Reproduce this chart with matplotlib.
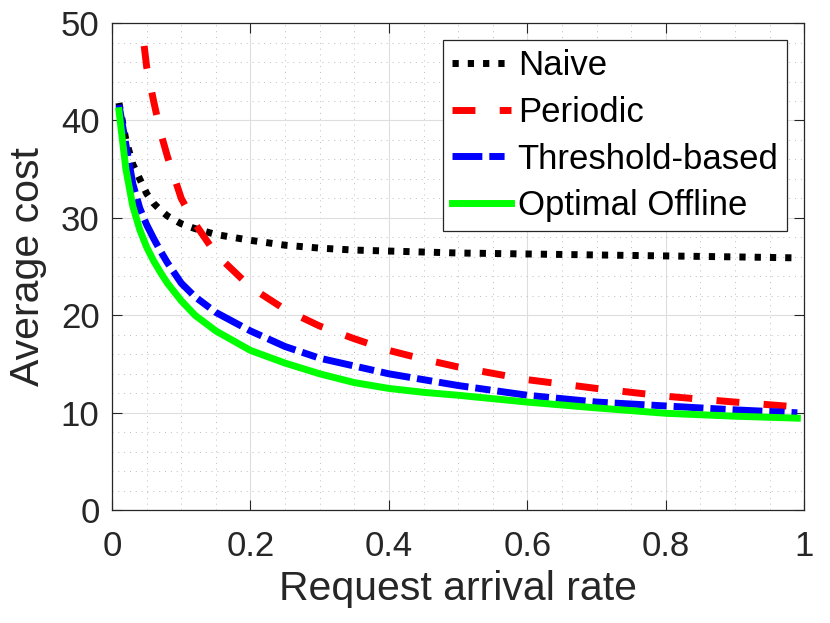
import numpy as np
import matplotlib.pyplot as plt

plt.rcParams["font.family"] = ["Liberation Sans", "DejaVu Sans"]

# request arrival rate (x) and average cost per policy
rate = [0.01, 0.02, 0.03, 0.04, 0.05, 0.06, 0.07, 0.08, 0.10, 0.12, 0.15,
        0.20, 0.25, 0.30, 0.35, 0.40, 0.45, 0.50, 0.60, 0.70, 0.80, 0.90, 0.99]
naive = [41.8, 38.0, 35.5, 34.0, 32.5, 31.5, 30.8, 30.2, 29.4, 28.9, 28.3,
         27.7, 27.2, 26.9, 26.7, 26.6, 26.5, 26.4, 26.3, 26.2, 26.1, 26.0, 25.9]
periodic = [130.0, 85.0, 62.0, 51.5, 45.5, 42.0, 38.8, 36.3, 32.0, 29.4, 26.3,
            22.9, 20.6, 18.9, 17.6, 16.4, 15.5, 14.7, 13.4, 12.5, 11.7, 11.1, 10.6]
threshold = [41.6, 37.5, 33.5, 31.0, 29.3, 27.9, 26.6, 25.4, 23.3, 21.9, 20.3,
             18.4, 16.8, 15.6, 14.8, 14.0, 13.4, 12.8, 11.8, 11.1, 10.7, 10.3, 10.0]
optimal = [41.0, 35.0, 31.2, 28.8, 27.0, 25.6, 24.4, 23.3, 21.5, 20.0, 18.4,
           16.4, 15.1, 14.0, 13.1, 12.5, 12.1, 11.8, 11.1, 10.5, 9.95, 9.65, 9.45]

labels = ["Naive", "Periodic", "Threshold-based", "Optimal Offline"]

fig = plt.figure(figsize=(8.3, 6.23), dpi=100)
ax = fig.add_axes([0.135, 0.181, 0.834, 0.782])

lw = 5
ax.plot(rate, naive, color="k", lw=lw, ls=(0, (0.9, 1.3)), label=labels[0])
ax.plot(rate, periodic, color="r", lw=lw, ls=(0, (3.3, 3.5)), label=labels[1])
ax.plot(rate, threshold, color="b", lw=lw, ls=(0, (4.3, 1.0, 2.2, 1.0)), label=labels[2])
ax.plot(rate, optimal, color="#00ff00", lw=lw, ls="-", label=labels[3])

ax.set_xlim(0, 1)
ax.set_ylim(0, 50)
ax.set_xticks(np.arange(0, 1.01, 0.2))
ax.set_xticklabels(["0", "0.2", "0.4", "0.6", "0.8", "1"])
ax.set_yticks(np.arange(0, 51, 10))
ax.set_xticks(np.arange(0, 1.01, 0.05), minor=True)
ax.set_yticks(np.arange(0, 51, 2), minor=True)

dark = "#262626"
ax.tick_params(which="major", direction="in", length=7, width=0.8, color=dark,
               labelsize=25, labelcolor=dark, top=True, right=True)
ax.tick_params(axis="x", which="major", pad=14)
ax.tick_params(axis="y", which="major", pad=9)
ax.tick_params(which="minor", length=0)
for s in ax.spines.values():
    s.set_color(dark)
    s.set_linewidth(0.9)

ax.grid(which="major", color="#dedede", lw=0.8, ls="-")
ax.grid(which="minor", color="#bdbdbd", lw=0.7, ls=(0, (1, 5)))
ax.set_axisbelow(True)

ax.set_xlabel("Request arrival rate", fontsize=29.5, color=dark, labelpad=5)
ax.set_ylabel("Average cost", fontsize=29.5, color=dark, labelpad=10)

leg = ax.legend(loc="upper right", bbox_to_anchor=(0.9754, 0.965), borderaxespad=0,
                fontsize=25, handlelength=1.7, handletextpad=0.2, labelspacing=0.4,
                borderpad=0.25, fancybox=False, framealpha=1, edgecolor=dark)
leg.get_frame().set_linewidth(0.9)

fig.savefig("out.png", dpi=100)
